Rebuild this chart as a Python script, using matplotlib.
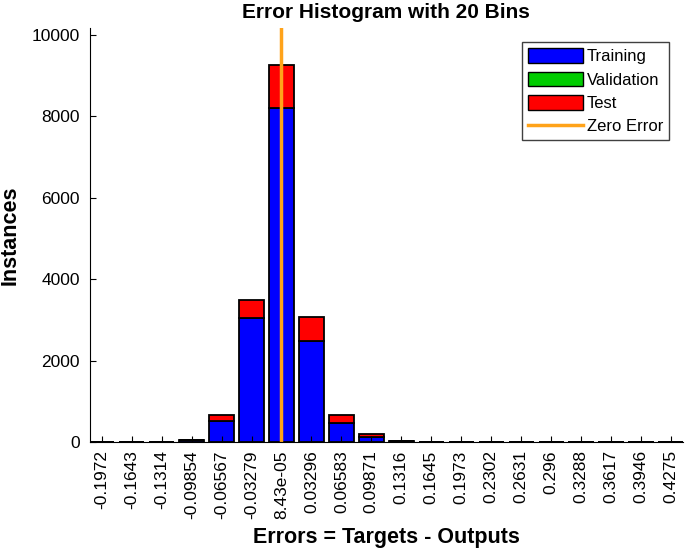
import matplotlib

matplotlib.use("Agg")
import matplotlib.pyplot as plt
import numpy as np
from matplotlib.patches import Patch
from matplotlib.lines import Line2D

plt.rcParams["font.family"] = ["Liberation Sans", "DejaVu Sans"]

# bin centres (tick labels) and stacked counts per bin
bin_labels = ["-0.1972", "-0.1643", "-0.1314", "-0.09854", "-0.06567",
              "-0.03279", "8.43e-05", "0.03296", "0.06583", "0.09871",
              "0.1316", "0.1645", "0.1973", "0.2302", "0.2631",
              "0.296", "0.3288", "0.3617", "0.3946", "0.4275"]
training = [0, 0, 0, 40, 520, 3040, 8210, 2490, 460, 115,
            25, 0, 0, 0, 0, 0, 0, 0, 0, 0]
validation = [0] * 20
test = [0, 0, 0, 10, 145, 450, 1050, 575, 200, 70,
        5, 0, 0, 0, 0, 0, 0, 0, 0, 0]
zero_error_bin = 6  # bin whose centre is ~0

ORANGE = "#FFA31A"

fig = plt.figure(figsize=(6.85, 5.49), dpi=100)
ax = fig.add_axes([0.131, 0.195, 0.866, 0.754])

x = np.arange(len(bin_labels))
tr = np.array(training)
va = np.array(validation)
te = np.array(test)
kw = dict(width=0.84, edgecolor="black", linewidth=1.3)
ax.bar(x, tr, color="#0000FF", **kw)
ax.bar(x, va, bottom=tr, color="#00CC00", **kw)
ax.bar(x, te, bottom=tr + va, color="#FF0000", **kw)
ax.axvline(zero_error_bin, color=ORANGE, linewidth=2.5)

ax.set_xlim(-0.4, len(bin_labels) - 0.6)
ax.set_ylim(0, 10170)
ax.set_yticks([0, 2000, 4000, 6000, 8000, 10000])
ax.set_xticks(x)
ax.set_xticklabels(bin_labels, rotation=90)
ax.tick_params(direction="in", labelsize=12.5, length=4)
ax.tick_params(axis="y", pad=7)
ax.tick_params(axis="x", pad=6)
ax.spines["top"].set_visible(False)
ax.spines["right"].set_visible(False)

ax.set_title("Error Histogram with 20 Bins", fontsize=15, fontweight="bold", pad=7)
ax.set_ylabel("Instances", fontsize=15.5, fontweight="bold")
ax.yaxis.set_label_coords(-0.116, 0.5)
ax.set_xlabel("Errors = Targets - Outputs", fontsize=15.5, fontweight="bold")
ax.xaxis.set_label_coords(0.5, -0.205)

handles = [
    Patch(facecolor="#0000FF", edgecolor="black", label="Training"),
    Patch(facecolor="#00CC00", edgecolor="black", label="Validation"),
    Patch(facecolor="#FF0000", edgecolor="black", label="Test"),
    Line2D([0], [0], color=ORANGE, linewidth=2.5, label="Zero Error"),
]
ax.legend(handles=handles, loc="upper right", bbox_to_anchor=(0.977, 0.965),
          fontsize=12, fancybox=False, edgecolor="#404040", framealpha=1,
          handlelength=3.3, handleheight=0.95, handletextpad=0.25,
          borderpad=0.35, borderaxespad=0, labelspacing=0.45)

fig.savefig("out.png", dpi=100)
